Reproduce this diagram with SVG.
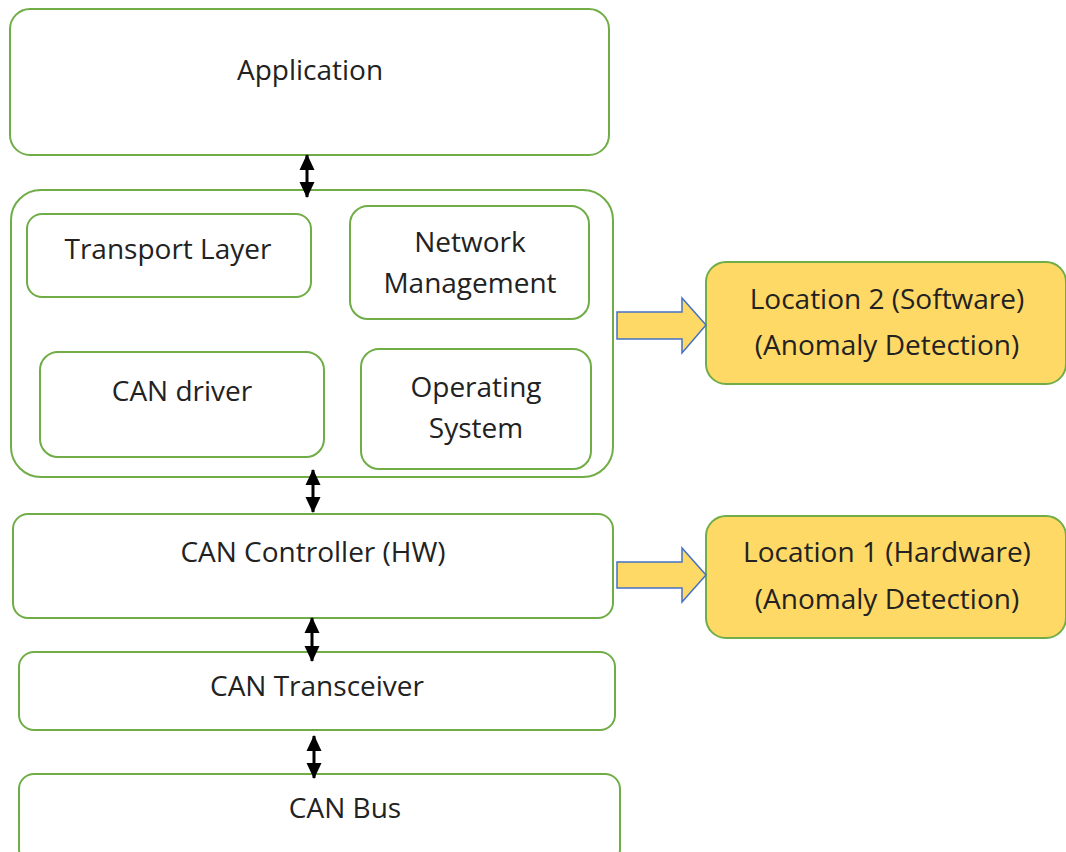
<svg xmlns="http://www.w3.org/2000/svg" width="1066" height="852" viewBox="0 0 1066 852">
  <style>
    .box { fill: #ffffff; stroke: #70ad47; stroke-width: 2; }
    .loc { fill: #ffd966; stroke: #70ad47; stroke-width: 2; }
    .blk { fill: #ffd966; stroke: #4472c4; stroke-width: 1.5; stroke-linejoin: miter; }
    .t { font-family: "Open Sans", "Liberation Sans", sans-serif; font-size: 28px; fill: #222222; text-anchor: middle; }
    .conn { stroke: #000000; stroke-width: 3; fill: none; }
  </style>
  <defs>
    <marker id="ah" viewBox="0 0 16 16" refX="15" refY="8" markerWidth="16" markerHeight="16" markerUnits="userSpaceOnUse" orient="auto-start-reverse">
      <path d="M0,0.5 L16,8 L0,15.5 Z" fill="#000000"/>
    </marker>
  </defs>
  <rect width="1066" height="852" fill="#ffffff"/>

  <g id="application">
    <rect class="box" x="10" y="9" width="599" height="146" rx="20"/>
    <text class="t" x="310" y="80">Application</text>
  </g>

  <g id="software-stack">
    <rect class="box" x="11" y="190" width="602" height="287" rx="30"/>
  </g>
  <g id="transport-layer">
    <rect class="box" x="27" y="214" width="284" height="83" rx="15"/>
    <text class="t" x="168" y="259">Transport Layer</text>
  </g>
  <g id="network-management">
    <rect class="box" x="350" y="206" width="239" height="113" rx="18"/>
    <text class="t" x="470" y="252">Network</text>
    <text class="t" x="470" y="293">Management</text>
  </g>
  <g id="can-driver">
    <rect class="box" x="40" y="352" width="284" height="105" rx="18"/>
    <text class="t" x="182" y="401">CAN driver</text>
  </g>
  <g id="operating-system">
    <rect class="box" x="361" y="349" width="230" height="120" rx="18"/>
    <text class="t" x="476" y="397">Operating</text>
    <text class="t" x="476" y="438">System</text>
  </g>

  <g id="can-controller">
    <rect class="box" x="13" y="514" width="600" height="104" rx="15"/>
    <text class="t" x="313" y="562">CAN Controller (HW)</text>
  </g>
  <g id="can-transceiver">
    <rect class="box" x="19" y="652" width="596" height="78" rx="15"/>
    <text class="t" x="317" y="696">CAN Transceiver</text>
  </g>
  <g id="can-bus">
    <rect class="box" x="19" y="774" width="601" height="90" rx="15"/>
    <text class="t" x="345" y="818">CAN Bus</text>
  </g>

  <g id="location-2">
    <rect class="loc" x="706" y="262" width="360" height="122" rx="20"/>
    <text class="t" x="887" y="309">Location 2 (Software)</text>
    <text class="t" x="887" y="355">(Anomaly Detection)</text>
  </g>
  <g id="location-1">
    <rect class="loc" x="706" y="516" width="360" height="122" rx="20"/>
    <text class="t" x="887" y="562">Location 1 (Hardware)</text>
    <text class="t" x="887" y="609">(Anomaly Detection)</text>
  </g>

  <g id="connectors">
    <line class="conn" x1="307" y1="155" x2="307" y2="197" marker-start="url(#ah)" marker-end="url(#ah)"/>
    <line class="conn" x1="313" y1="470" x2="313" y2="512" marker-start="url(#ah)" marker-end="url(#ah)"/>
    <line class="conn" x1="312" y1="618" x2="312" y2="661" marker-start="url(#ah)" marker-end="url(#ah)"/>
    <line class="conn" x1="314" y1="736" x2="314" y2="778" marker-start="url(#ah)" marker-end="url(#ah)"/>
    <path class="blk" d="M617,312 L682,312 L682,298 L706,325 L682,353 L682,339 L617,339 Z"/>
    <path class="blk" d="M617,562 L682,562 L682,548 L706,575 L682,602 L682,588 L617,588 Z"/>
  </g>
</svg>
